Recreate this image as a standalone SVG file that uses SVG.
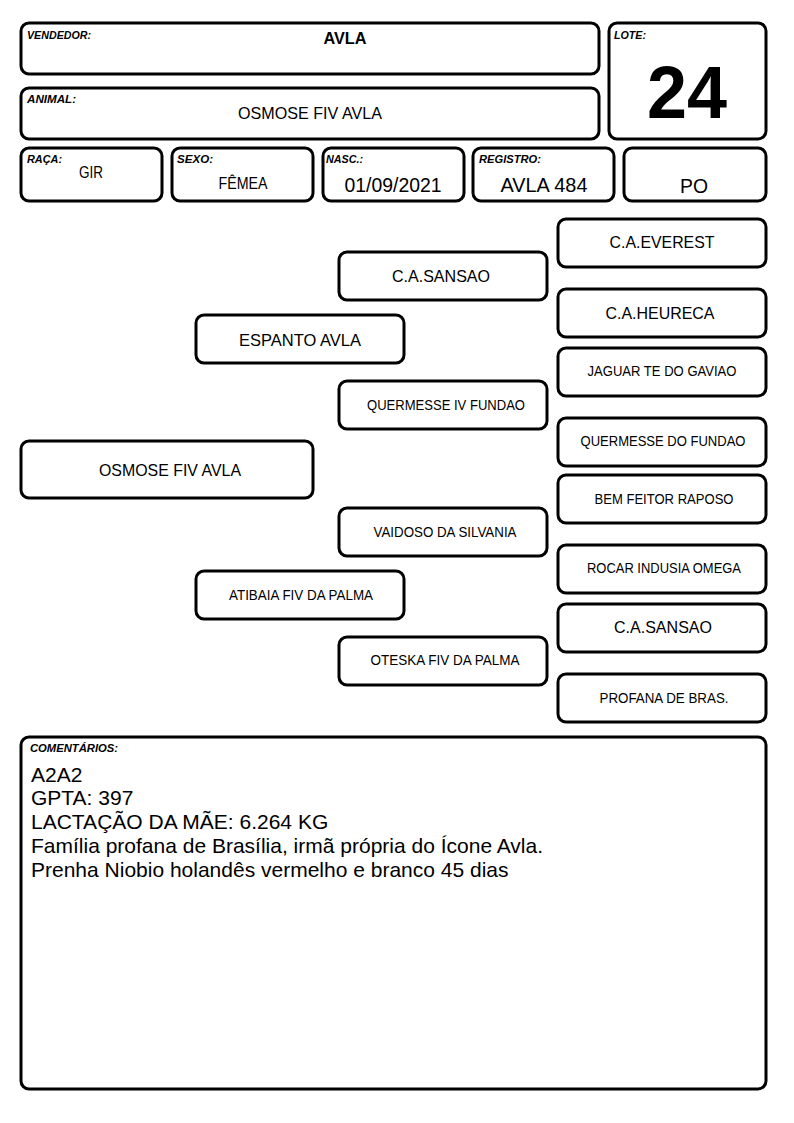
<svg xmlns="http://www.w3.org/2000/svg" width="794" height="1123" viewBox="0 0 794 1123">
<style>
.b{fill:#fff;stroke:#000;stroke-width:3}
.l{font-family:"Liberation Sans",Arial,sans-serif;font-weight:bold;font-style:italic;font-size:10.5px;fill:#000}
.t{font-family:"Liberation Sans",Arial,sans-serif;font-size:17px;fill:#000;text-anchor:middle}
.s{font-family:"Liberation Sans",Arial,sans-serif;font-size:14px;fill:#000;text-anchor:middle}
.c{font-family:"Liberation Sans",Arial,sans-serif;font-size:21px;fill:#000}
</style>
<rect width="794" height="1123" fill="#fff"/>
<g id="vendedor"><rect class="b" x="21" y="23" width="578" height="51" rx="8"/><text class="l" x="27" y="39" textLength="64" lengthAdjust="spacingAndGlyphs">VENDEDOR:</text><text class="t" x="345" y="44" style="font-weight:bold" textLength="43" lengthAdjust="spacingAndGlyphs">AVLA</text></g>
<g id="lote"><rect class="b" x="609" y="23" width="157" height="116" rx="8"/><text class="l" x="614" y="39" textLength="32" lengthAdjust="spacingAndGlyphs">LOTE:</text><text class="t" x="687" y="118" style="font-weight:bold;font-size:74px" textLength="80" lengthAdjust="spacingAndGlyphs">24</text></g>
<g id="animal"><rect class="b" x="21" y="88" width="578" height="51" rx="8"/><text class="l" x="27" y="103" textLength="49" lengthAdjust="spacingAndGlyphs">ANIMAL:</text><text class="t" x="310" y="119" textLength="144" lengthAdjust="spacingAndGlyphs">OSMOSE FIV AVLA</text></g>
<g id="raca"><rect class="b" x="21" y="148" width="141" height="53" rx="8"/><text class="l" x="27" y="163" textLength="35" lengthAdjust="spacingAndGlyphs">RAÇA:</text><text class="t" x="91" y="178" textLength="24" lengthAdjust="spacingAndGlyphs">GIR</text></g>
<g id="sexo"><rect class="b" x="172" y="148" width="141" height="53" rx="8"/><text class="l" x="177" y="163" textLength="36" lengthAdjust="spacingAndGlyphs">SEXO:</text><text class="t" x="243" y="189" textLength="49" lengthAdjust="spacingAndGlyphs">FÊMEA</text></g>
<g id="nasc"><rect class="b" x="323" y="148" width="141" height="53" rx="8"/><text class="l" x="326" y="163" textLength="37" lengthAdjust="spacingAndGlyphs">NASC.:</text><text class="t" x="393" y="192" style="font-size:20px" textLength="97" lengthAdjust="spacingAndGlyphs">01/09/2021</text></g>
<g id="registro"><rect class="b" x="473" y="148" width="141" height="53" rx="8"/><text class="l" x="479" y="163" textLength="62" lengthAdjust="spacingAndGlyphs">REGISTRO:</text><text class="t" x="544" y="192" style="font-size:20px" textLength="87" lengthAdjust="spacingAndGlyphs">AVLA 484</text></g>
<g id="po"><rect class="b" x="624" y="148" width="142" height="53" rx="8"/><text class="t" x="694" y="193" style="font-size:20px" textLength="28" lengthAdjust="spacingAndGlyphs">PO</text></g>
<g id="connectors"></g>
<g id="n-everest"><rect class="b" x="558" y="219" width="208" height="48" rx="8"/><text class="t" x="662" y="248" textLength="105" lengthAdjust="spacingAndGlyphs">C.A.EVEREST</text></g>
<g id="n-sansao1"><rect class="b" x="339" y="252" width="208" height="48" rx="8"/><text class="t" x="441" y="282" textLength="98" lengthAdjust="spacingAndGlyphs">C.A.SANSAO</text></g>
<g id="n-heureca"><rect class="b" x="558" y="289" width="208" height="48" rx="8"/><text class="t" x="660" y="319" textLength="109" lengthAdjust="spacingAndGlyphs">C.A.HEURECA</text></g>
<g id="n-espanto"><rect class="b" x="196" y="315" width="208" height="48" rx="8"/><text class="t" x="300" y="346" textLength="122" lengthAdjust="spacingAndGlyphs">ESPANTO AVLA</text></g>
<g id="n-jaguar"><rect class="b" x="558" y="348" width="208" height="48" rx="8"/><text class="s" x="662" y="376" textLength="149" lengthAdjust="spacingAndGlyphs">JAGUAR TE DO GAVIAO</text></g>
<g id="n-quermesse4"><rect class="b" x="339" y="381" width="208" height="48" rx="8"/><text class="s" x="446" y="410" textLength="158" lengthAdjust="spacingAndGlyphs">QUERMESSE IV FUNDAO</text></g>
<g id="n-quermesse"><rect class="b" x="558" y="418" width="208" height="48" rx="8"/><text class="s" x="663" y="446" textLength="165" lengthAdjust="spacingAndGlyphs">QUERMESSE DO FUNDAO</text></g>
<g id="n-osmose"><rect class="b" x="21" y="441" width="292" height="57" rx="8"/><text class="t" x="170" y="476" textLength="142" lengthAdjust="spacingAndGlyphs">OSMOSE FIV AVLA</text></g>
<g id="n-bemfeitor"><rect class="b" x="558" y="475" width="208" height="48" rx="8"/><text class="s" x="664" y="504" textLength="139" lengthAdjust="spacingAndGlyphs">BEM FEITOR RAPOSO</text></g>
<g id="n-vaidoso"><rect class="b" x="339" y="508" width="208" height="48" rx="8"/><text class="s" x="445" y="537" textLength="143" lengthAdjust="spacingAndGlyphs">VAIDOSO DA SILVANIA</text></g>
<g id="n-rocar"><rect class="b" x="558" y="545" width="208" height="48" rx="8"/><text class="s" x="664" y="573" textLength="154" lengthAdjust="spacingAndGlyphs">ROCAR INDUSIA OMEGA</text></g>
<g id="n-atibaia"><rect class="b" x="196" y="571" width="208" height="48" rx="8"/><text class="s" x="301" y="600" textLength="144" lengthAdjust="spacingAndGlyphs">ATIBAIA FIV DA PALMA</text></g>
<g id="n-sansao2"><rect class="b" x="558" y="604" width="208" height="48" rx="8"/><text class="t" x="663" y="633" textLength="98" lengthAdjust="spacingAndGlyphs">C.A.SANSAO</text></g>
<g id="n-oteska"><rect class="b" x="339" y="637" width="208" height="48" rx="8"/><text class="s" x="445" y="665" textLength="149" lengthAdjust="spacingAndGlyphs">OTESKA FIV DA PALMA</text></g>
<g id="n-profana"><rect class="b" x="558" y="674" width="208" height="48" rx="8"/><text class="s" x="664" y="703" textLength="129" lengthAdjust="spacingAndGlyphs">PROFANA DE BRAS.</text></g>
<g id="comentarios"><rect class="b" x="21" y="737" width="745" height="352" rx="8"/><text class="l" x="30" y="752" textLength="88" lengthAdjust="spacingAndGlyphs">COMENTÁRIOS:</text>
<text class="c" x="31" y="782">A2A2</text>
<text class="c" x="31" y="805">GPTA: 397</text>
<text class="c" x="31" y="829">LACTAÇÃO DA MÃE: 6.264 KG</text>
<text class="c" x="31" y="853">Família profana de Brasília, irmã própria do Ícone Avla.</text>
<text class="c" x="31" y="877">Prenha Niobio holandês vermelho e branco 45 dias</text></g>
</svg>
